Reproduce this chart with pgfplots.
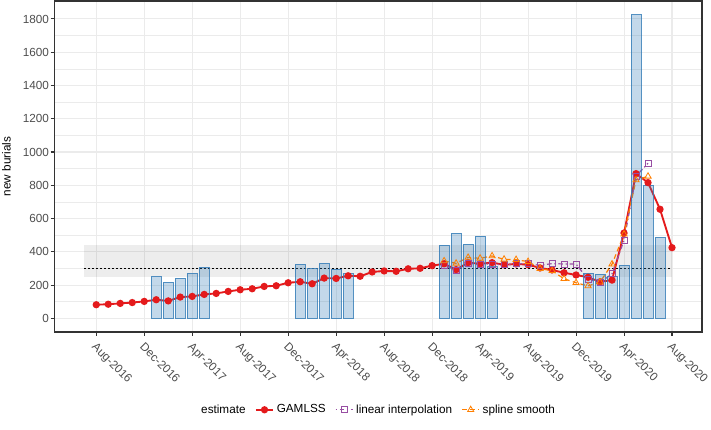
\documentclass[border=0pt]{standalone}
\usepackage{pgfplots}
\pgfplotsset{compat=1.18}
\usepackage{fontspec}
\setmainfont{Liberation Sans}
\definecolor{gamred}{HTML}{E41A1C}
\definecolor{linpur}{HTML}{984EA3}
\definecolor{splor}{HTML}{FF7F00}
\definecolor{barblue}{HTML}{377EB8}
\definecolor{grid92}{HTML}{EBEBEB}
\definecolor{grey20}{HTML}{333333}
\definecolor{grey30}{HTML}{4D4D4D}
\begin{document}
\begin{tikzpicture}
\useasboundingbox (0,0) rectangle (533.25pt,321.75pt);
\begin{axis}[
  at={(40.7pt,72.75pt)}, anchor=south west,
  scale only axis, width=485.8pt, height=248.25pt,
  xmin=-3.5, xmax=50.5, ymin=-82, ymax=1908,
  axis line style={grey20, line width=0.8pt},
  tick align=outside, tick pos=left,
  major tick length=2.75pt, minor tick length=0pt,
  tick style={grey20, line width=0.8pt},
  xtick={0,4,...,48},
  xticklabels={Aug-2016,Dec-2016,Apr-2017,Aug-2017,Dec-2017,Apr-2018,Aug-2018,Dec-2018,Apr-2019,Aug-2019,Dec-2019,Apr-2020,Aug-2020},
  ytick={0,200,...,1800},
  minor ytick={100,300,...,1700},
  xmajorgrids, ymajorgrids, yminorgrids,
  major grid style={grid92, line width=0.8pt},
  minor grid style={grid92, line width=0.5pt},
  ticklabel style={font=\fontsize{8.8}{10}\selectfont, text=grey30},
  yticklabel style={/pgf/number format/1000 sep={}, /pgf/number format/assume math mode=true, inner sep=1pt},
  xticklabel style={rotate=-45, anchor=north west, inner sep=1pt, xshift=2.5pt, yshift=-1.5pt},
  ylabel={new burials},
  ylabel style={font=\fontsize{8.8}{10}\selectfont, at={(axis description cs:-0.074,0.5)}, anchor=center},
  legend columns=4,
  legend cell align=left,
  legend style={draw=none, fill=none, at={(0.5,-0.235)}, anchor=center,
    font=\fontsize{8.8}{10}\selectfont,
    /tikz/every even column/.append style={column sep=5pt}},
  legend image code/.code={\draw[mark repeat=2,mark phase=2] plot coordinates {(0pt,0pt) (6.5pt,0pt) (13pt,0pt)};},
]
\addlegendimage{empty legend}\addlegendentry{estimate}
\addlegendimage{gamred, line width=1.4pt, mark=*, mark size=2pt, mark options={solid}}\addlegendentry{GAMLSS}
\addlegendimage{linpur, line width=0.9pt, dash pattern=on 1pt off 2pt on 3.5pt off 2pt, mark=square, mark size=2.2pt, mark options={solid, line width=0.6pt}}\addlegendentry{linear interpolation}
\addlegendimage{splor, line width=0.9pt, dash pattern=on 3.5pt off 2.5pt, mark=triangle, mark size=2.7pt, mark options={solid, line width=0.6pt}}\addlegendentry{spline smooth}

% reference band and line
\addplot[forget plot, draw=none, fill=black, fill opacity=0.07] coordinates {(-1,250) (48,250) (48,443) (-1,443)};
\addplot[forget plot, black, line width=1.1pt, dash pattern=on 1.1pt off 1.9pt] coordinates {(-1,300) (48,300)};

% GAMLSS
\addplot[forget plot, gamred, line width=1.4pt, mark=*, mark size=2pt, mark options={solid}] table {
x y
0 82
1 85
2 90
3 95
4 102
5 112
6 105
7 128
8 132
9 144
10 150
11 162
12 172
13 178
14 192
15 196
16 214
17 220
18 208
19 242
20 240
21 256
22 253
23 279
24 285
25 283
26 298
27 301
28 317
29 328
30 293
31 335
32 328
33 335
34 322
35 327
36 323
37 303
38 291
39 274
40 261
41 247
42 220
43 230
44 513
45 870
46 816
47 656
48 425
};

% linear interpolation
\addplot[forget plot, linpur, line width=0.9pt, dash pattern=on 1pt off 2pt on 3.5pt off 2pt, mark=square, mark size=2.2pt, mark options={solid, line width=0.6pt}] table {
x y
29 320
30 289
31 330
32 326
33 327
34 322
35 328
36 328
37 319
38 329
39 327
40 326
41 235
42 215
43 268
44 469
45 855
46 933
};

% spline smooth
\addplot[forget plot, splor, line width=0.9pt, dash pattern=on 3.5pt off 2.5pt, mark=triangle, mark size=2.7pt, mark options={solid, line width=0.6pt}] table {
x y
29 345
30 331
31 366
32 361
33 375
34 355
35 353
36 341
37 299
38 286
39 238
40 214
41 195
42 218
43 326
44 506
45 832
46 854
};

% observed burials
\addplot[forget plot, ybar, bar width=0.83, draw=barblue, draw opacity=0.85, fill=barblue, fill opacity=0.3, line width=0.7pt] table {
x y
5 249
6 216
7 240
8 271
9 306
17 324
18 297
19 330
20 295
21 268
29 441
30 511
31 447
32 495
33 309
41 272
42 266
43 254
44 319
45 1825
46 800
47 487
};
\end{axis}
\end{tikzpicture}
\end{document}
